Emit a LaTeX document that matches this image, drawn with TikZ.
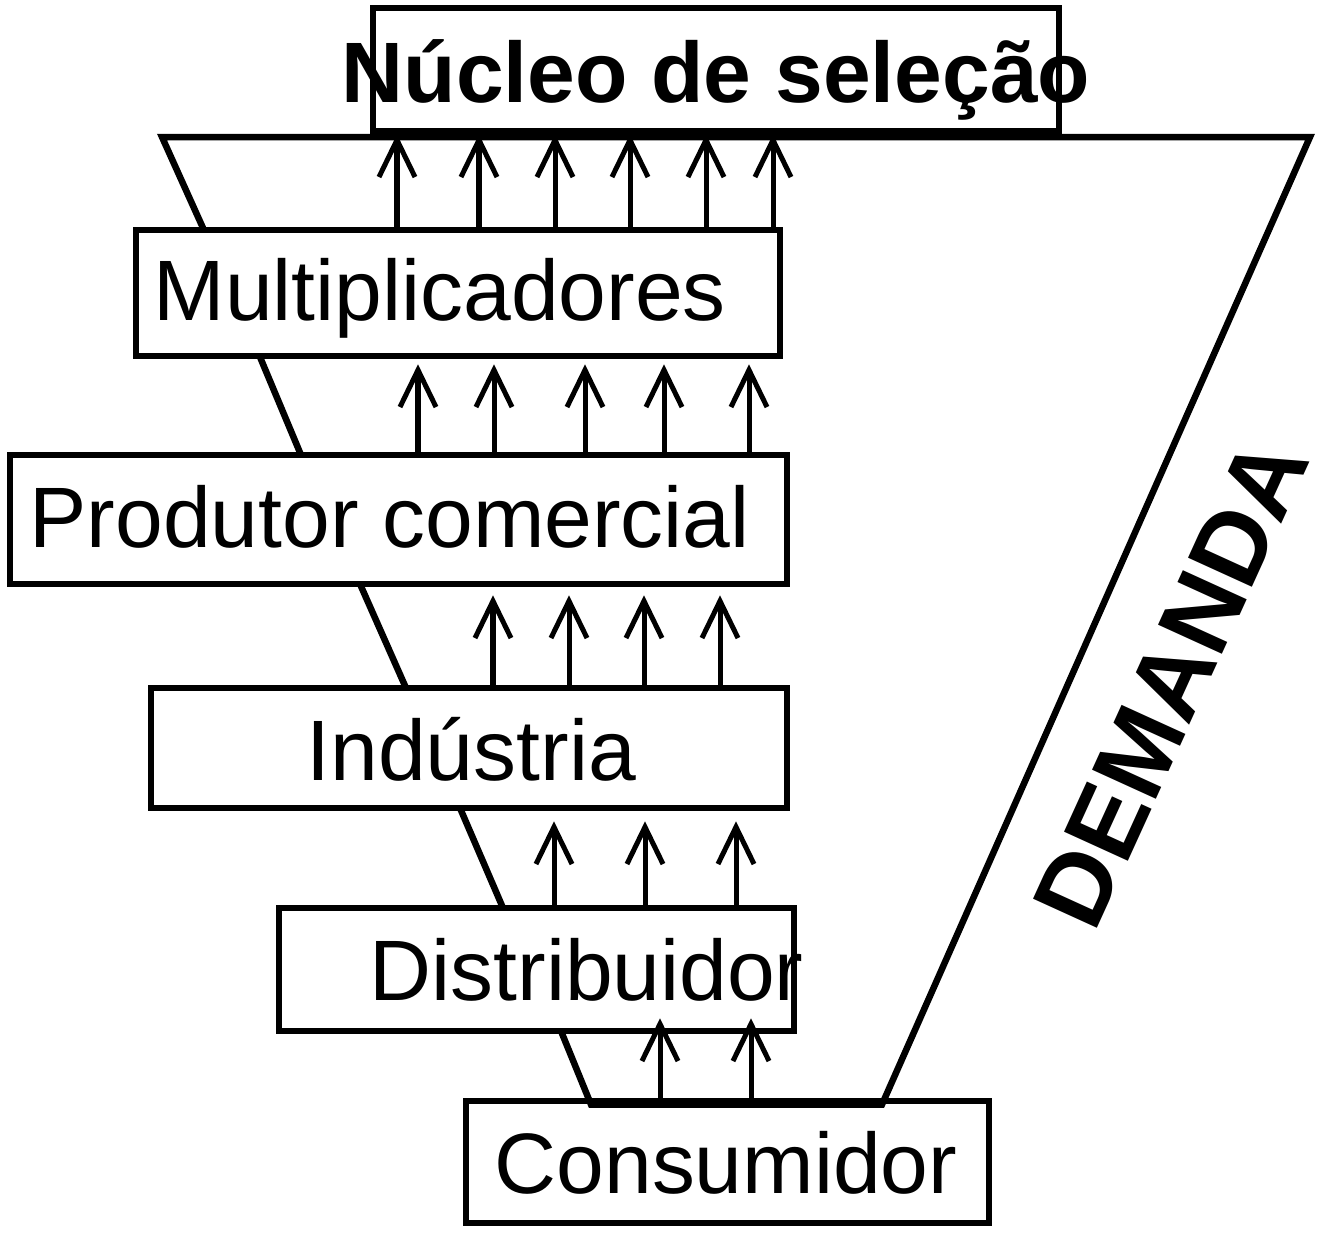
\documentclass[tikz,border=0pt]{standalone}
\usepackage{fontspec}
\setmainfont{Liberation Sans}
\usetikzlibrary{arrows.meta}

\tikzset{
  caixa/.style={draw, line width=0.065cm, inner sep=0pt},
  rotulo/.style={anchor=base west, inner sep=0pt, font=\fontsize{24.4}{28}\selectfont},
  seta/.style={line width=0.05cm, line cap=round, -{Straight Barb[length=3.7mm,width=3.6mm]}},
  funil/.style={line width=0.065cm, line join=miter}
}

\begin{document}
\begin{tikzpicture}[x=0.01cm, y=-0.01cm]
	\useasboundingbox (0,0) rectangle (1326,1233);
	% caixas
	\node[caixa, minimum width=6.86cm, minimum height=1.23cm] (nucleo) at (716,69.5) {};
	\node[caixa, minimum width=6.44cm, minimum height=1.26cm] (mult) at (458,293) {};
	\node[caixa, minimum width=7.77cm, minimum height=1.29cm] (prod) at (398.5,519.5) {};
	\node[caixa, minimum width=6.36cm, minimum height=1.20cm] (ind) at (469,748) {};
	\node[caixa, minimum width=5.15cm, minimum height=1.23cm] (dist) at (536.5,969.5) {};
	\node[caixa, minimum width=5.23cm, minimum height=1.22cm] (cons) at (727.5,1162) {};
	% textos
	\node[rotulo, font=\fontsize{24.4}{28}\selectfont\bfseries] (tnucleo) at (341,102) {Núcleo de seleção};
	\node[rotulo] (tmult) at (153,320) {Multiplicadores};
	\node[rotulo] (tprod) at (29,547) {Produtor comercial};
	\node[rotulo] (tind) at (306,780) {Indústria};
	\node[rotulo] (tdist) at (369,1000) {Distribuidor};
	\node[rotulo] (tcons) at (494,1193) {Consumidor};
	\node[rotulo, font=\fontsize{29}{34}\selectfont\bfseries, anchor=base, rotate=65.5] (tdemanda) at (1203,697) {DEMANDA};
	% funil
	\draw[funil] (203,228) -- (162,137) -- (1310,137) -- (882,1104.5) -- (591,1104.5) -- (561,1031);
	\draw[funil] (260,357) -- (301,455);
	\draw[funil] (360,584) -- (406,688);
	\draw[funil] (460,808) -- (503,908);
	% setas
	\foreach \x in {397,479,555,630,706,773}
		\draw[seta] (\x,0 |- mult.north) -- (\x,0 |- nucleo.south);
	\foreach \x in {418,494,585,664,749}
		\draw[seta, shorten >=0.05cm] (\x,0 |- prod.north) -- (\x,0 |- mult.south);
	\foreach \x in {493,569,644,720}
		\draw[seta, shorten >=0.08cm] (\x,0 |- ind.north) -- (\x,0 |- prod.south);
	\foreach \x in {554,645,736}
		\draw[seta, shorten >=0.1cm] (\x,0 |- dist.north) -- (\x,0 |- ind.south);
	\foreach \x in {660,751}
		\draw[seta, shorten >=-0.16cm] (\x,0 |- cons.north) -- (\x,0 |- dist.south);
\end{tikzpicture}
\end{document}
